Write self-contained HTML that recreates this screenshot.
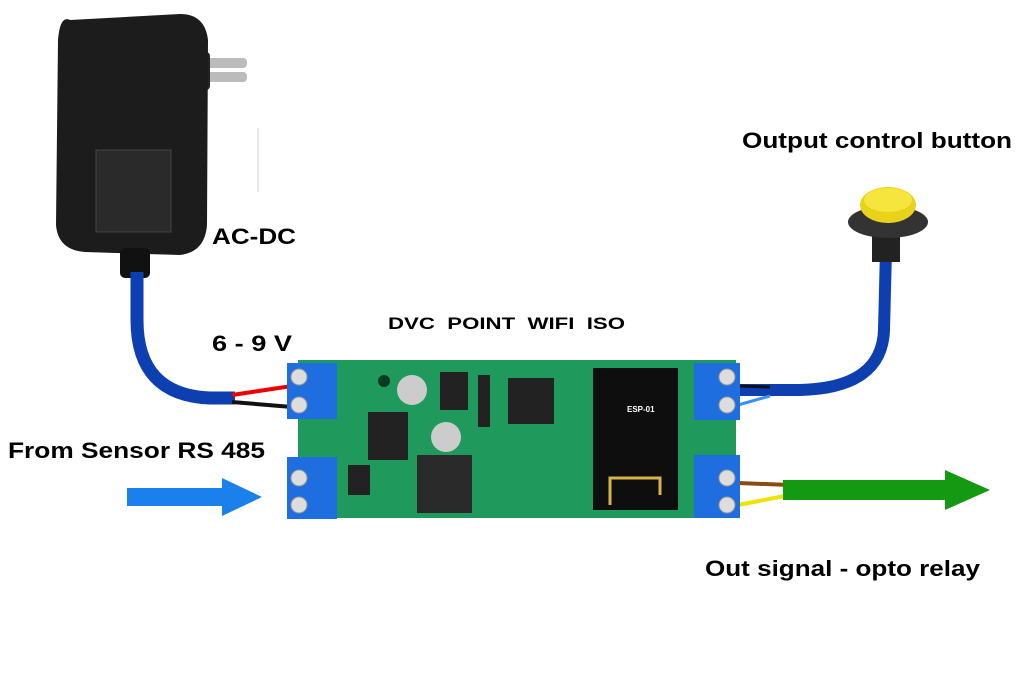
<!DOCTYPE html>
<html><head><meta charset="utf-8"><style>
html,body{margin:0;padding:0;background:#fff;}
svg{display:block}
text{font-family:"Liberation Sans",sans-serif;font-weight:bold;fill:#000}
</style></head><body>
<svg width="1024" height="693" viewBox="0 0 1024 693" xmlns="http://www.w3.org/2000/svg">
<rect width="1024" height="693" fill="#fff"/>
<!-- charger -->
<rect x="202" y="58" width="45" height="10" rx="4" fill="#bbb"/>
<rect x="202" y="72" width="45" height="10" rx="4" fill="#bbb"/>
<rect x="190" y="52" width="20" height="38" rx="4" fill="#222"/>
<path d="M70 20 Q60 15 58 40 L56 225 Q58 250 85 252 L180 255 Q205 252 207 225 L208 40 Q205 14 180 14 Z" fill="#1c1c1c"/>
<rect x="96" y="150" width="75" height="82" fill="#2a2a2a" stroke="#444"/>
<rect x="120" y="248" width="30" height="30" rx="5" fill="#111"/>
<line x1="258" y1="128" x2="258" y2="192" stroke="#ccc" stroke-width="1"/>
<!-- cables -->
<path d="M137 272 L137 320 Q137 395 210 398 L235 398" fill="none" stroke="#0d3fb0" stroke-width="13"/>
<path d="M232 395 L292 386" stroke="#e00" stroke-width="4"/>
<path d="M232 402 L292 407" stroke="#111" stroke-width="4"/>
<path d="M886 250 L884 330 Q882 388 800 390 L740 390" fill="none" stroke="#0d3fb0" stroke-width="12"/>
<path d="M738 386 L770 387" stroke="#111" stroke-width="3"/>
<path d="M738 405 L770 396" stroke="#3a8fff" stroke-width="3"/>
<path d="M738 483 L790 485" stroke="#8a4a12" stroke-width="4"/>
<path d="M738 505 L790 495" stroke="#f2e200" stroke-width="4"/>
<!-- button -->
<rect x="872" y="232" width="28" height="30" fill="#222"/>
<ellipse cx="888" cy="222" rx="40" ry="16" fill="#333"/>
<ellipse cx="888" cy="205" rx="28" ry="18" fill="#e8d21a"/>
<ellipse cx="888" cy="200" rx="24" ry="12" fill="#f5e53c"/>
<!-- PCB -->
<rect x="298" y="360" width="438" height="158" fill="#1f9a5c"/>
<circle cx="384" cy="381" r="6" fill="#0a3a20"/>
<rect x="368" y="412" width="40" height="48" fill="#222"/>
<rect x="417" y="455" width="55" height="58" fill="#2a2a2a"/>
<rect x="508" y="378" width="46" height="46" fill="#222"/>
<circle cx="412" cy="390" r="15" fill="#ccc"/>
<circle cx="446" cy="437" r="15" fill="#ccc"/>
<rect x="440" y="372" width="28" height="38" fill="#222"/>
<rect x="478" y="375" width="12" height="52" fill="#222"/>
<rect x="348" y="465" width="22" height="30" fill="#222"/>
<!-- ESP-01 -->
<rect x="593" y="368" width="85" height="142" fill="#0e0e0e"/>
<text x="627" y="412" font-size="8" style="fill:#fff">ESP-01</text>
<path d="M610 505 L610 478 L660 478 L660 495" fill="none" stroke="#d9b24a" stroke-width="3"/>
<!-- terminals -->
<g fill="#1f6ee0">
<rect x="287" y="363" width="50" height="56"/><rect x="287" y="457" width="50" height="62"/>
<rect x="694" y="363" width="46" height="57"/><rect x="694" y="455" width="46" height="63"/>
</g>
<g fill="#ddd" stroke="#999">
<circle cx="299" cy="377" r="8"/><circle cx="299" cy="405" r="8"/>
<circle cx="299" cy="478" r="8"/><circle cx="299" cy="505" r="8"/>
<circle cx="727" cy="377" r="8"/><circle cx="727" cy="405" r="8"/>
<circle cx="727" cy="478" r="8"/><circle cx="727" cy="505" r="8"/>
</g>
<!-- arrows -->
<path d="M127 488 L222 488 L222 478 L262 497 L222 516 L222 506 L127 506 Z" fill="#1a80ec"/>
<path d="M783 480 L945 480 L945 470 L990 490 L945 510 L945 500 L783 500 Z" fill="#139a12"/>
<!-- labels -->
<text x="212" y="244" font-size="22" textLength="84" lengthAdjust="spacingAndGlyphs">AC-DC</text>
<text x="212" y="351" font-size="22" textLength="80" lengthAdjust="spacingAndGlyphs">6 - 9 V</text>
<text x="388" y="329" font-size="17" xml:space="preserve" textLength="237" lengthAdjust="spacingAndGlyphs">DVC  POINT  WIFI  ISO</text>
<text x="742" y="148" font-size="22" textLength="270" lengthAdjust="spacingAndGlyphs">Output control button</text>
<text x="8" y="458" font-size="22" textLength="257" lengthAdjust="spacingAndGlyphs">From Sensor RS 485</text>
<text x="705" y="576" font-size="22" textLength="275" lengthAdjust="spacingAndGlyphs">Out signal - opto relay</text>
</svg>
</body></html>
